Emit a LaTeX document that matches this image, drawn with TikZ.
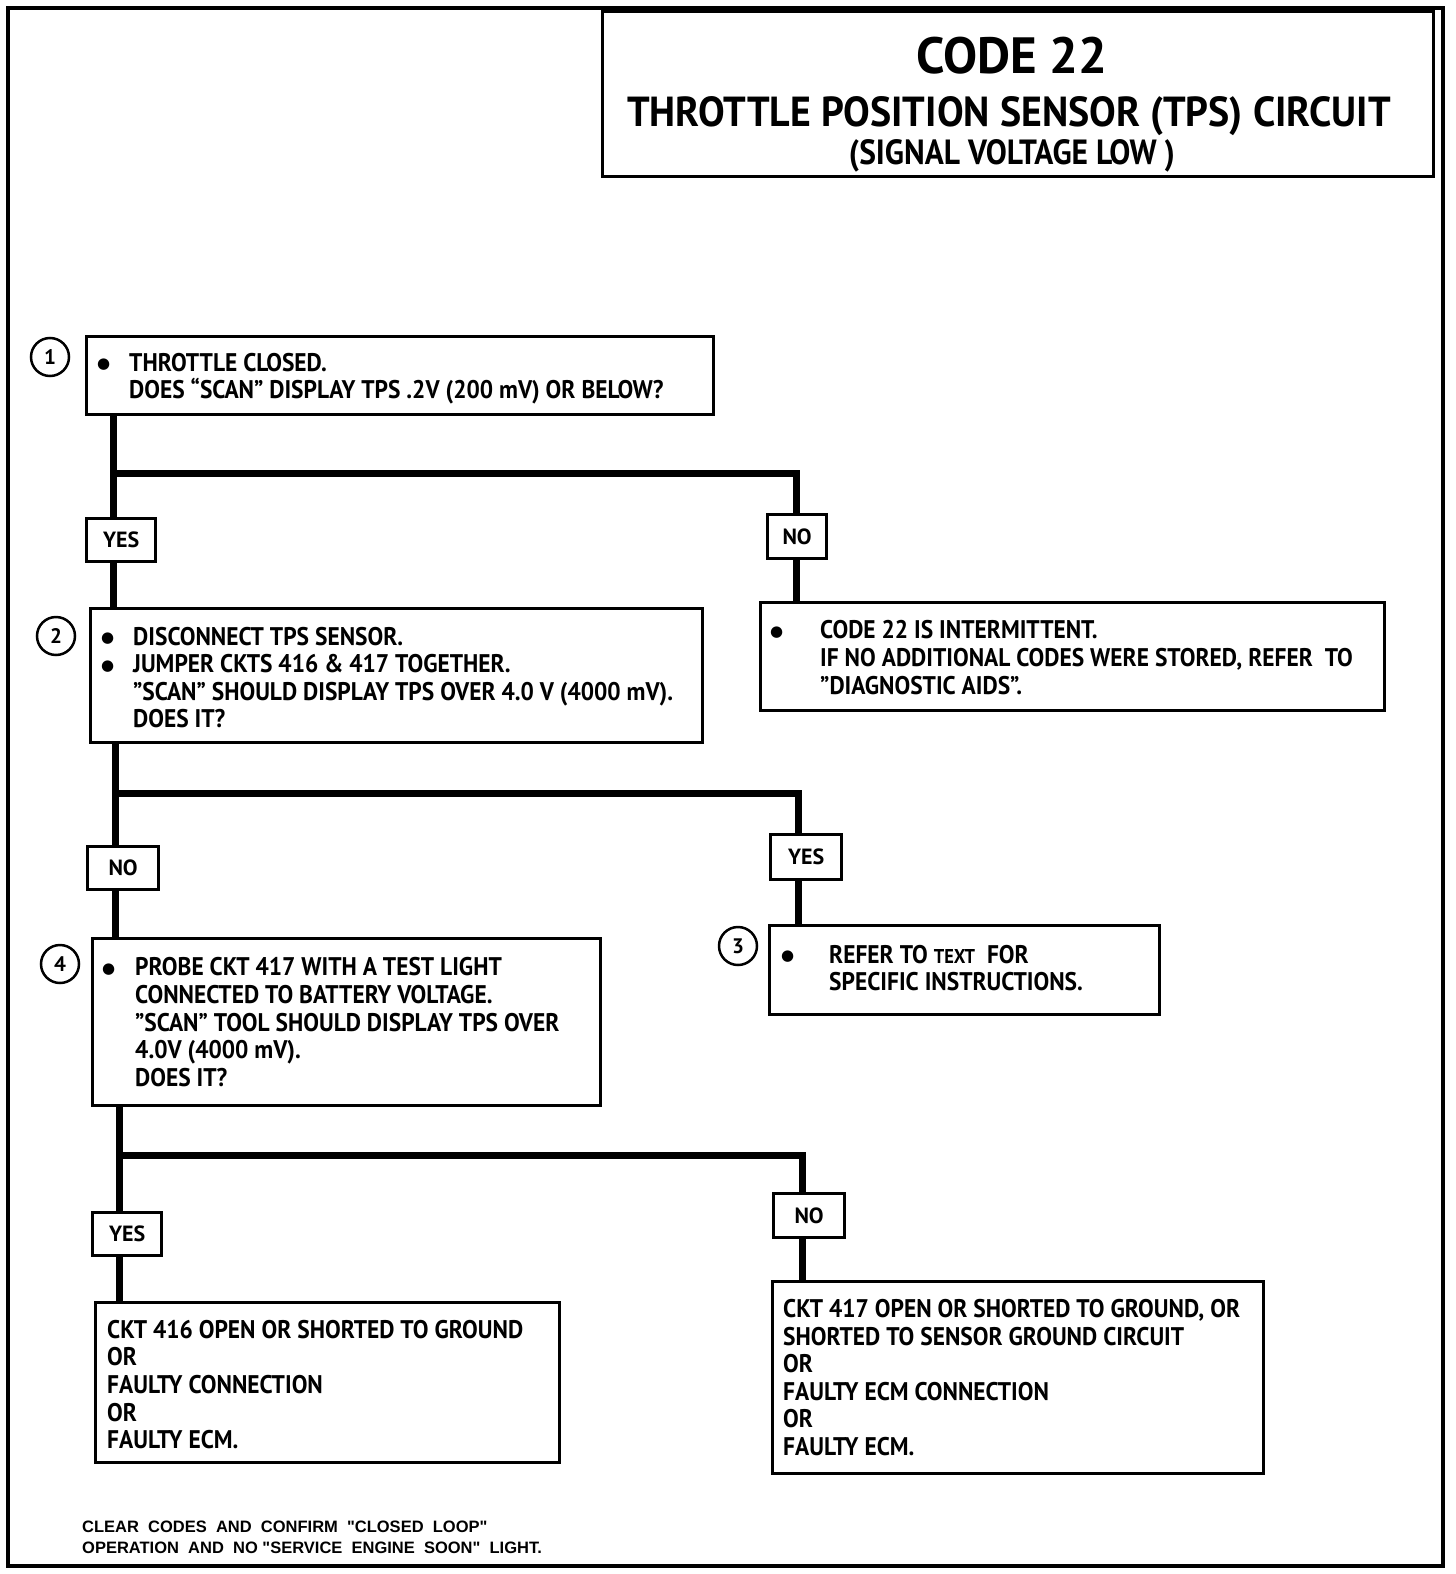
\documentclass[tikz,border=0pt]{standalone}
\usepackage{fontspec}
\setmainfont{PT Sans}[FakeStretch=0.92]
\newfontfamily\titlefont{PT Sans}[FakeStretch=0.9]
\newfontfamily\titlewide{PT Sans}[FakeStretch=0.95]
\newfontfamily\plainfont{PT Sans}
\newfontfamily\footfont{Liberation Sans}
\newfontfamily\dejavu{DejaVu Sans}
\newcommand\bl[1]{\makebox[#1][l]{\hspace*{-2pt}\raisebox{2.5pt}{\dejavu\fontsize{15}{15}\selectfont ●}}}
\newcommand\ind[1]{\hspace*{#1}}
\begin{document}
\begin{tikzpicture}[x=1pt,y=-1pt,
  box/.style={draw,line width=3.2pt,rectangle,anchor=north west,inner sep=0pt},
  txt/.style={anchor=west,align=left,inner sep=0pt,
     font=\fontsize{25.5}{27.6}\selectfont\bfseries},
  lab/.style={draw,line width=3.2pt,fill=white,rectangle,anchor=north west,inner sep=0pt,
     font=\plainfont\fontsize{22}{24}\selectfont\bfseries},
  num/.style={draw,line width=2.5pt,circle,minimum size=38pt,inner sep=0pt,
     font=\plainfont\fontsize{21}{22}\selectfont\bfseries},
  conn/.style={line width=7pt}]
\useasboundingbox (0,0) rectangle (1456,1574);
% outer frame
\draw[line width=4pt] (8,8) rectangle (1443,1566);
% title
\node[draw,line width=3pt,anchor=north west,minimum width=831pt,minimum height=165pt,inner sep=0pt] (title) at (601,10) {};
\node[inner sep=0pt,font=\plainfont\fontsize{51}{52}\selectfont\bfseries] (t1) at (1012,56) {CODE 22};
\node[inner sep=0pt,font=\titlewide\fontsize{42}{44}\selectfont\bfseries] (t2) at (1009,116) {THROTTLE POSITION SENSOR (TPS) CIRCUIT};
\node[inner sep=0pt,font=\titlefont\fontsize{35}{37}\selectfont\bfseries] (t3) at (1012,156) {(SIGNAL VOLTAGE LOW )};
% boxes
\node[box,minimum width=627pt,minimum height=78pt] (b1) at (85,335) {};
\node[box,minimum width=612pt,minimum height=134pt] (b2) at (89,607) {};
\node[box,minimum width=624pt,minimum height=108pt] (r1) at (759,601) {};
\node[box,minimum width=390pt,minimum height=89pt] (b3) at (768,924) {};
\node[box,minimum width=508pt,minimum height=167pt] (b4) at (91,937) {};
\node[box,minimum width=464pt,minimum height=160pt] (b5) at (94,1301) {};
\node[box,minimum width=491pt,minimum height=192pt] (b6) at (771,1280) {};
% box texts
\node[txt] (b1t) at ([xshift=14pt,yshift=-3pt]b1.west)
 {\bl{30pt}THROTTLE CLOSED.\\ \ind{30pt}DOES “SCAN” DISPLAY TPS .2V (200 mV) OR BELOW?};
\node[txt] (b2t) at ([xshift=14pt,yshift=-2pt]b2.west)
 {\bl{30pt}DISCONNECT TPS SENSOR.\\ \bl{30pt}JUMPER CKTS 416 \& 417 TOGETHER.\\ \ind{30pt}”SCAN” SHOULD DISPLAY TPS OVER 4.0 V (4000 mV).\\ \ind{30pt}DOES IT?};
\node[txt] (r1t) at ([xshift=13pt,yshift=-1pt]r1.west)
 {\bl{48pt}CODE 22 IS INTERMITTENT.\\ \ind{48pt}IF NO ADDITIONAL CODES WERE STORED, REFER\ \ TO\\ \ind{48pt}"DIAGNOSTIC AIDS”.};
\node[txt] (b3t) at ([xshift=15pt,yshift=2pt]b3.west)
 {\bl{46pt}REFER TO {\fontsize{20}{27.6}\selectfont TEXT}\ \ FOR\\ \ind{46pt}SPECIFIC INSTRUCTIONS.};
\node[txt] (b4t) at ([xshift=13pt]b4.west)
 {\bl{31pt}PROBE CKT 417 WITH A TEST LIGHT\\ \ind{31pt}CONNECTED TO BATTERY VOLTAGE.\\ \ind{31pt}”SCAN” TOOL SHOULD DISPLAY TPS OVER\\ \ind{31pt}4.0V (4000 mV).\\ \ind{31pt}DOES IT?};
\node[txt] (b5t) at ([xshift=13pt,yshift=-2pt]b5.west)
 {CKT 416 OPEN OR SHORTED TO GROUND\\ OR\\ FAULTY CONNECTION\\ OR\\ FAULTY ECM.};
\node[txt] (b6t) at ([xshift=12pt]b6.west)
 {CKT 417 OPEN OR SHORTED TO GROUND, OR\\ SHORTED TO SENSOR GROUND CIRCUIT\\ OR\\ FAULTY ECM CONNECTION\\ OR\\ FAULTY ECM.};
% step numbers
\node[num] (c1) at (50,357) {1};
\node[num] (c2) at (56,636) {2};
\node[num] (c3) at (738,946) {3};
\node[num] (c4) at (60,964) {4};
% junctions
\coordinate (j1) at (113,473);
\coordinate (k1) at (796,473);
\coordinate (j2) at (115,793);
\coordinate (k2) at (798,793);
\coordinate (j3) at (119,1155);
\coordinate (k3) at (802,1155);
% connectors
\draw[conn] (b1.south -| j1) -- (b2.north -| j1);
\draw[conn] (j1) -- (k1) -- (r1.north -| k1);
\draw[conn] (b2.south -| j2) -- (b4.north -| j2);
\draw[conn] (j2) -- (k2) -- (b3.north -| k2);
\draw[conn] (b4.south -| j3) -- (b5.north -| j3);
\draw[conn] (j3) -- (k3) -- (b6.north -| k3);
% labels
\node[lab,minimum width=69pt,minimum height=43pt] (yes1) at (85,517) {YES};
\node[lab,minimum width=59pt,minimum height=44pt] (no1) at (766,513) {NO};
\node[lab,minimum width=71pt,minimum height=43pt] (no2) at (86,845) {NO};
\node[lab,minimum width=71pt,minimum height=45pt] (yes2) at (769,833) {YES};
\node[lab,minimum width=69pt,minimum height=43pt] (yes3) at (91,1211) {YES};
\node[lab,minimum width=71pt,minimum height=44pt] (no3) at (772,1192) {NO};
% footer
\node[anchor=north west,align=left,inner sep=0pt,font=\footfont\fontsize{16.5}{21}\selectfont\bfseries] (foot) at (82,1521)
 {CLEAR\ \ CODES\ \ AND\ \ CONFIRM\ \ "CLOSED\ \ LOOP"\\ OPERATION\ \ AND\ \ NO "SERVICE\ \ ENGINE\ \ SOON"\ \ LIGHT.};
\end{tikzpicture}
\end{document}
